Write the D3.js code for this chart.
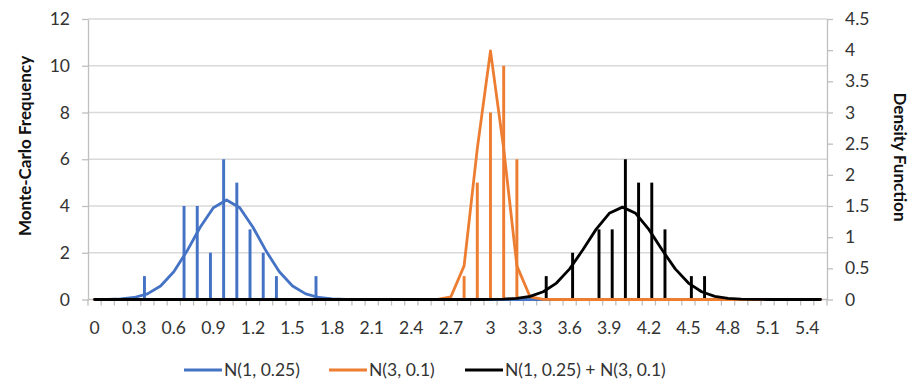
<!DOCTYPE html>
<html>
    <head>
        <meta charset="utf-8">
        <script src="https://cdn.jsdelivr.net/npm/d3@7"></script>
        <style>
            body { margin: 0; background: white; }
            text { font-family: Lato, "Open Sans", sans-serif; }
        </style>
        <script>
            // categories on the x axis (Excel category axis, 0.1 steps)
            var categories = [0, 0.1, 0.2, 0.3, 0.4, 0.5, 0.6, 0.7, 0.8, 0.9,
                              1, 1.1, 1.2, 1.3, 1.4, 1.5, 1.6, 1.7, 1.8, 1.9,
                              2, 2.1, 2.2, 2.3, 2.4, 2.5, 2.6, 2.7, 2.8, 2.9,
                              3, 3.1, 3.2, 3.3, 3.4, 3.5, 3.6, 3.7, 3.8, 3.9,
                              4, 4.1, 4.2, 4.3, 4.4, 4.5, 4.6, 4.7, 4.8, 4.9,
                              5, 5.1, 5.2, 5.3, 5.4, 5.5];
            var xTickLabels = ["0", "0.3", "0.6", "0.9", "1.2", "1.5", "1.8", "2.1", "2.4", "2.7",
                               "3", "3.3", "3.6", "3.9", "4.2", "4.5", "4.8", "5.1", "5.4"];
            var leftTicks = [0, 2, 4, 6, 8, 10, 12];
            var rightTicks = [0, 0.5, 1, 1.5, 2, 2.5, 3, 3.5, 4, 4.5];
            var rightTickLabels = ["0", "0.5", "1", "1.5", "2", "2.5", "3", "3.5", "4", "4.5"];

            var seriesNames = ["N(1, 0.25)", "N(3, 0.1)", "N(1, 0.25) + N(3, 0.1)"];
            var seriesColors = ["#4472C4", "#ED7D31", "#000000"];

            // Monte-Carlo frequencies (columns): bin + count
            var blueBins = [0.4, 0.7, 0.8, 0.9, 1, 1.1, 1.2, 1.3, 1.4, 1.7];
            var blueCounts = [1, 4, 4, 2, 6, 5, 3, 2, 1, 1];
            var orangeBins = [2.8, 2.9, 3, 3.1, 3.2];
            var orangeCounts = [1, 5, 8, 10, 6];
            var blackBins = [3.4, 3.6, 3.8, 3.9, 4, 4.1, 4.2, 4.3, 4.5, 4.6];
            var blackCounts = [1, 2, 3, 3, 6, 5, 5, 3, 1, 1];

            // density function values (right axis), one per category
            var blueDensity = [0.001, 0.002, 0.01, 0.032, 0.09, 0.216, 0.444, 0.777, 1.159, 1.473,
                               1.596, 1.473, 1.159, 0.777, 0.444, 0.216, 0.09, 0.032, 0.01, 0.002,
                               0.001, 0, 0, 0, 0, 0, 0, 0, 0, 0,
                               0, 0, 0, 0, 0, 0, 0, 0, 0, 0,
                               0, 0, 0, 0, 0, 0, 0, 0, 0, 0,
                               0, 0, 0, 0, 0, 0];
            var orangeDensity = [0, 0, 0, 0, 0, 0, 0, 0, 0, 0,
                                 0, 0, 0, 0, 0, 0, 0, 0, 0, 0,
                                 0, 0, 0, 0, 0, 0, 0.001, 0.044, 0.54, 2.42,
                                 3.989, 2.42, 0.54, 0.044, 0.001, 0, 0, 0, 0, 0,
                                 0, 0, 0, 0, 0, 0, 0, 0, 0, 0,
                                 0, 0, 0, 0, 0, 0];
            var blackDensity = [0, 0, 0, 0, 0, 0, 0, 0, 0, 0,
                                0, 0, 0, 0, 0, 0, 0, 0, 0, 0,
                                0, 0, 0, 0, 0, 0, 0, 0, 0, 0.0004,
                                0.0015, 0.006, 0.018, 0.051, 0.124, 0.264, 0.492, 0.797, 1.125, 1.383,
                                1.482, 1.383, 1.125, 0.797, 0.492, 0.264, 0.124, 0.051, 0.018, 0.006,
                                0.0015, 0.0004, 0, 0, 0, 0];

            function makeSVG() {
                var svg = d3.select("#fig");
                var left = 88, right = 827, top = 19, bottom = 299.5;

                var x = d3.scaleBand().domain(categories).range([left, right]);
                var xSub = d3.scaleBand().domain([0, 1, 2]).range([0, x.bandwidth()])
                             .paddingInner(0).paddingOuter(0.75);
                var yL = d3.scaleLinear().domain([0, 12]).range([bottom, top]);
                var yR = d3.scaleLinear().domain([0, 4.5]).range([bottom, top]);
                var cx = d => x(d) + x.bandwidth() / 2;

                // gridlines
                svg.append("g").selectAll("line").data(leftTicks.slice(1)).enter()
                   .append("line")
                   .attr("x1", left).attr("x2", right)
                   .attr("y1", d => yL(d)).attr("y2", d => yL(d))
                   .attr("stroke", "#d9d9d9").attr("stroke-width", 1.3);

                // left axis
                var gl = svg.append("g").attr("transform", "translate(" + left + ",0)")
                            .call(d3.axisLeft(yL).tickValues(leftTicks).tickSize(6).tickSizeOuter(0).tickPadding(12));
                gl.selectAll("path, line").attr("stroke", "#bfbfbf").attr("stroke-width", 1.3);
                gl.selectAll("text").attr("font-size", 17.5).attr("fill", "#333")
                  .attr("font-family", "Lato");

                // right axis
                var gr = svg.append("g").attr("transform", "translate(" + right + ",0)")
                            .call(d3.axisRight(yR).tickValues(rightTicks).tickSize(6).tickSizeOuter(0).tickPadding(12)
                                  .tickFormat((d, i) => rightTickLabels[i]));
                gr.selectAll("path, line").attr("stroke", "#bfbfbf").attr("stroke-width", 1.3);
                gr.selectAll("text").attr("font-size", 17.5).attr("fill", "#333")
                  .attr("font-family", "Lato");

                // bottom axis: minor ticks between categories, labels every 3rd
                var boundaries = categories.map(c => x(c)).concat([right]);
                svg.append("line").attr("x1", left).attr("x2", right)
                   .attr("y1", bottom).attr("y2", bottom)
                   .attr("stroke", "#bfbfbf").attr("stroke-width", 1.3);
                svg.append("g").selectAll("line").data(boundaries).enter()
                   .append("line")
                   .attr("x1", d => d).attr("x2", d => d)
                   .attr("y1", bottom).attr("y2", bottom + 6)
                   .attr("stroke", "#bfbfbf").attr("stroke-width", 1.3);
                svg.append("g").selectAll("text").data(xTickLabels).enter()
                   .append("text")
                   .attr("x", d => cx(+d))
                   .attr("y", 334)
                   .attr("text-anchor", "middle")
                   .attr("font-size", 17.5).attr("fill", "#333")
                   .text(d => d);

                // columns
                var bars = [[blueBins, blueCounts], [orangeBins, orangeCounts], [blackBins, blackCounts]];
                bars.forEach(function(b, s) {
                    svg.append("g").selectAll("rect").data(b[0]).enter()
                       .append("rect")
                       .attr("x", d => x(d) + xSub(s))
                       .attr("width", xSub.bandwidth())
                       .attr("y", (d, i) => yL(b[1][i]))
                       .attr("height", (d, i) => yL(0) - yL(b[1][i]))
                       .attr("fill", seriesColors[s]);
                });

                // density lines
                var line = d3.line().x((d, i) => cx(categories[i])).y(d => yR(d));
                [blueDensity, orangeDensity, blackDensity].forEach(function(vals, s) {
                    svg.append("path")
                       .attr("d", line(vals))
                       .attr("fill", "none")
                       .attr("stroke", seriesColors[s])
                       .attr("stroke-width", 2.8)
                       .attr("stroke-linejoin", "round")
                       .attr("stroke-linecap", "round");
                });

                // axis titles
                svg.append("text")
                   .attr("transform", "translate(31,146) rotate(-90)")
                   .attr("text-anchor", "middle")
                   .attr("font-size", 17).attr("font-weight", "bold").attr("fill", "#111")
                   .text("Monte-Carlo Frequency");
                svg.append("text")
                   .attr("transform", "translate(894,157) rotate(90)")
                   .attr("text-anchor", "middle")
                   .attr("font-size", 17).attr("font-weight", "bold").attr("fill", "#111")
                   .text("Density Function");

                // legend
                var legendX = [184, 329, 465];
                seriesNames.forEach(function(name, s) {
                    var g = svg.append("g").attr("transform", "translate(" + legendX[s] + ",370)");
                    g.append("line").attr("x1", 0).attr("x2", 38).attr("y1", 0).attr("y2", 0)
                     .attr("stroke", seriesColors[s]).attr("stroke-width", 2.8);
                    g.append("text").attr("x", 40).attr("y", 6)
                     .attr("font-size", 17.5).attr("fill", "#333")
                     .text(name);
                });
            }
        </script>
    </head>
    <body onload="makeSVG()">
        <svg id="fig" width="914" height="386"></svg>
    </body>
</html>
